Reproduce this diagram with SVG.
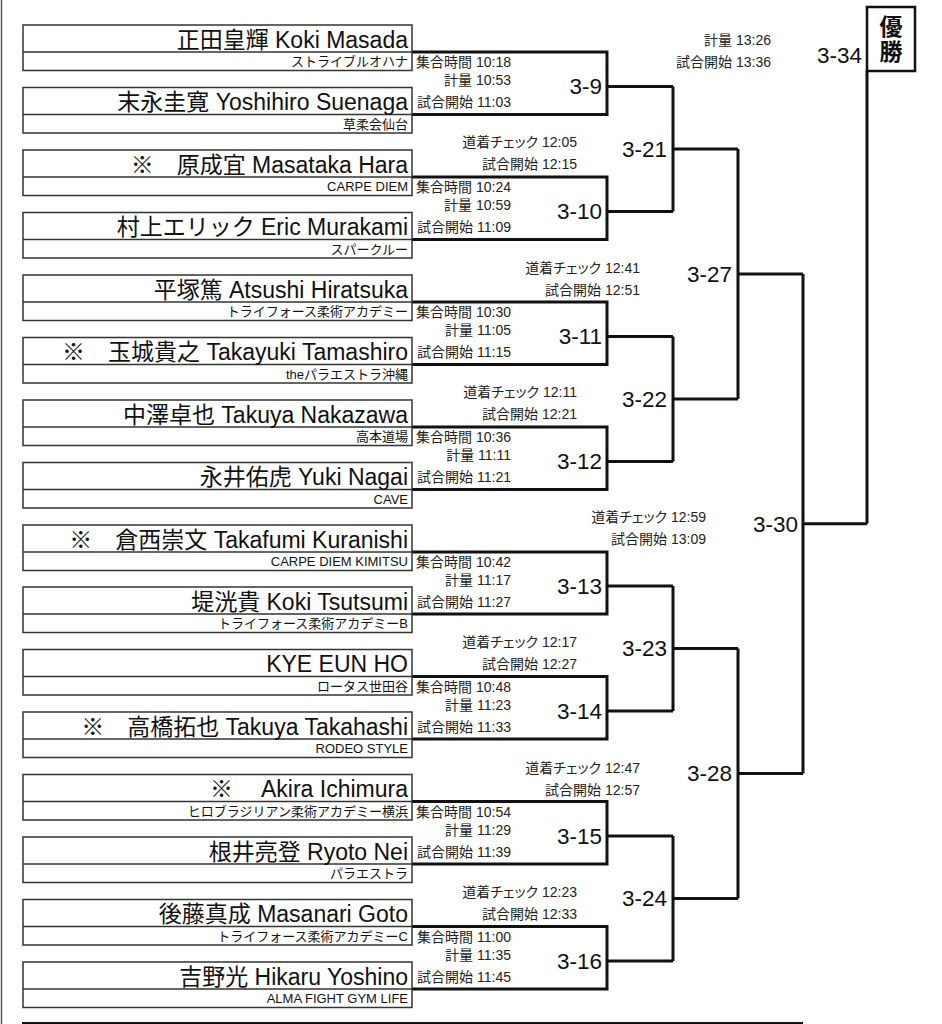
<svg xmlns="http://www.w3.org/2000/svg" width="942" height="1024" viewBox="0 0 942 1024">
<style>
.bg{fill:#ffffff}
.box{fill:#ffffff;stroke:#333333;stroke-width:1.5}
.div{stroke:#333333;stroke-width:1.5}
.nm{font-family:"Liberation Sans","Noto Sans CJK JP",sans-serif;font-size:23px;fill:#111111;text-anchor:end}
.cl{font-family:"Liberation Sans","Noto Sans CJK JP",sans-serif;font-size:13px;fill:#111111;text-anchor:end}
.tm{font-family:"Liberation Sans","Noto Sans CJK JP",sans-serif;font-size:14px;fill:#222222;text-anchor:end;font-feature-settings:"palt"}
.lb{font-family:"Liberation Sans","Noto Sans CJK JP",sans-serif;font-size:22.5px;fill:#111111;text-anchor:end}
.cn{fill:none;stroke:#111111;stroke-width:3;stroke-linejoin:miter}
.win{fill:#ffffff;stroke:#111111;stroke-width:2.5}
.wt{font-family:"Noto Sans CJK JP",sans-serif;font-size:23px;font-weight:bold;fill:#111111;text-anchor:middle;writing-mode:vertical-rl;letter-spacing:2px}
</style>
<rect class="bg" x="0" y="0" width="942" height="1024"/>
<line x1="1.5" y1="0" x2="1.5" y2="1024" stroke="#555555" stroke-width="1.5"/>
<line x1="22" y1="1023" x2="803" y2="1023" stroke="#111111" stroke-width="2"/>

<g id="connectors">
<path class="cn" d="M412,52 H607 V114.5 H412 M607,86.5 H673"/>
<path class="cn" d="M412,177 H607 V239.5 H412 M607,211.5 H673"/>
<path class="cn" d="M412,302 H607 V364.5 H412 M607,336.5 H673"/>
<path class="cn" d="M412,427 H607 V489.5 H412 M607,461.5 H673"/>
<path class="cn" d="M412,552 H607 V614 H412 M607,586 H673"/>
<path class="cn" d="M412,676.5 H607 V739 H412 M607,711 H673"/>
<path class="cn" d="M412,801.5 H607 V864 H412 M607,836 H673"/>
<path class="cn" d="M412,926.5 H607 V989 H412 M607,961 H673"/>
<path class="cn" d="M673,86.5 V211.5 M673,149 H738"/>
<path class="cn" d="M673,336.5 V461.5 M673,399 H738"/>
<path class="cn" d="M673,586 V711 M673,648.5 H738"/>
<path class="cn" d="M673,836 V961 M673,898.5 H738"/>
<path class="cn" d="M738,149 V399 M738,274 H803"/>
<path class="cn" d="M738,648.5 V898.5 M738,773.5 H803"/>
<path class="cn" d="M803,274 V773.5 M803,523.75 H867"/>
<path class="cn" d="M867,523.75 V71"/>
</g>

<g id="player-1"><rect class="box" x="23" y="25" width="389" height="45.5"/><line class="div" x1="23" y1="52" x2="412" y2="52"/><text class="nm" x="408" y="47.5">正田皇輝 Koki Masada</text><text class="cl" x="408" y="66">ストライブルオハナ</text></g>
<g id="player-2"><rect class="box" x="23" y="87.5" width="389" height="45.5"/><line class="div" x1="23" y1="114.5" x2="412" y2="114.5"/><text class="nm" x="408" y="110">末永圭寛 Yoshihiro Suenaga</text><text class="cl" x="408" y="128.5">草柔会仙台</text></g>
<g id="player-3"><rect class="box" x="23" y="150" width="389" height="45.5"/><line class="div" x1="23" y1="177" x2="412" y2="177"/><text class="nm" x="408" y="172.5">※　原成宜 Masataka Hara</text><text class="cl" x="408" y="191">CARPE DIEM</text></g>
<g id="player-4"><rect class="box" x="23" y="212.5" width="389" height="45.5"/><line class="div" x1="23" y1="239.5" x2="412" y2="239.5"/><text class="nm" x="408" y="235">村上エリック Eric Murakami</text><text class="cl" x="408" y="253.5">スパークルー</text></g>
<g id="player-5"><rect class="box" x="23" y="275" width="389" height="45.5"/><line class="div" x1="23" y1="302" x2="412" y2="302"/><text class="nm" x="408" y="297.5">平塚篤 Atsushi Hiratsuka</text><text class="cl" x="408" y="316">トライフォース柔術アカデミー</text></g>
<g id="player-6"><rect class="box" x="23" y="337.5" width="389" height="45.5"/><line class="div" x1="23" y1="364.5" x2="412" y2="364.5"/><text class="nm" x="408" y="360">※　玉城貴之 Takayuki Tamashiro</text><text class="cl" x="408" y="378.5">theパラエストラ沖縄</text></g>
<g id="player-7"><rect class="box" x="23" y="400" width="389" height="45.5"/><line class="div" x1="23" y1="427" x2="412" y2="427"/><text class="nm" x="408" y="422.5">中澤卓也 Takuya Nakazawa</text><text class="cl" x="408" y="441">高本道場</text></g>
<g id="player-8"><rect class="box" x="23" y="462.5" width="389" height="45.5"/><line class="div" x1="23" y1="489.5" x2="412" y2="489.5"/><text class="nm" x="408" y="485">永井佑虎 Yuki Nagai</text><text class="cl" x="408" y="503.5">CAVE</text></g>
<g id="player-9"><rect class="box" x="23" y="525" width="389" height="45.5"/><line class="div" x1="23" y1="552" x2="412" y2="552"/><text class="nm" x="408" y="547.5">※　倉西崇文 Takafumi Kuranishi</text><text class="cl" x="408" y="566">CARPE DIEM KIMITSU</text></g>
<g id="player-10"><rect class="box" x="23" y="587" width="389" height="45.5"/><line class="div" x1="23" y1="614" x2="412" y2="614"/><text class="nm" x="408" y="609.5">堤洸貴 Koki Tsutsumi</text><text class="cl" x="408" y="628">トライフォース柔術アカデミーB</text></g>
<g id="player-11"><rect class="box" x="23" y="649.5" width="389" height="45.5"/><line class="div" x1="23" y1="676.5" x2="412" y2="676.5"/><text class="nm" x="408" y="672">KYE EUN HO</text><text class="cl" x="408" y="690.5">ロータス世田谷</text></g>
<g id="player-12"><rect class="box" x="23" y="712" width="389" height="45.5"/><line class="div" x1="23" y1="739" x2="412" y2="739"/><text class="nm" x="408" y="734.5">※　高橋拓也 Takuya Takahashi</text><text class="cl" x="408" y="753">RODEO STYLE</text></g>
<g id="player-13"><rect class="box" x="23" y="774.5" width="389" height="45.5"/><line class="div" x1="23" y1="801.5" x2="412" y2="801.5"/><text class="nm" x="408" y="797">※　 Akira Ichimura</text><text class="cl" x="408" y="815.5">ヒロブラジリアン柔術アカデミー横浜</text></g>
<g id="player-14"><rect class="box" x="23" y="837" width="389" height="45.5"/><line class="div" x1="23" y1="864" x2="412" y2="864"/><text class="nm" x="408" y="859.5">根井亮登 Ryoto Nei</text><text class="cl" x="408" y="878">パラエストラ</text></g>
<g id="player-15"><rect class="box" x="23" y="899.5" width="389" height="45.5"/><line class="div" x1="23" y1="926.5" x2="412" y2="926.5"/><text class="nm" x="408" y="922">後藤真成 Masanari Goto</text><text class="cl" x="408" y="940.5">トライフォース柔術アカデミーC</text></g>
<g id="player-16"><rect class="box" x="23" y="962" width="389" height="45.5"/><line class="div" x1="23" y1="989" x2="412" y2="989"/><text class="nm" x="408" y="984.5">吉野光 Hikaru Yoshino</text><text class="cl" x="408" y="1003">ALMA FIGHT GYM LIFE</text></g>

<g id="match-3-9"><text class="tm" x="511" y="67">集合時間 10:18</text><text class="tm" x="511" y="85">計量 10:53</text><text class="tm" x="511" y="107">試合開始 11:03</text><text class="lb" x="602" y="94">3-9</text></g>
<g id="match-3-10"><text class="tm" x="511" y="192">集合時間 10:24</text><text class="tm" x="511" y="210">計量 10:59</text><text class="tm" x="511" y="232">試合開始 11:09</text><text class="lb" x="602" y="219">3-10</text></g>
<g id="match-3-11"><text class="tm" x="511" y="317">集合時間 10:30</text><text class="tm" x="511" y="335">計量 11:05</text><text class="tm" x="511" y="357">試合開始 11:15</text><text class="lb" x="602" y="344">3-11</text></g>
<g id="match-3-12"><text class="tm" x="511" y="442">集合時間 10:36</text><text class="tm" x="511" y="460">計量 11:11</text><text class="tm" x="511" y="482">試合開始 11:21</text><text class="lb" x="602" y="469">3-12</text></g>
<g id="match-3-13"><text class="tm" x="511" y="567">集合時間 10:42</text><text class="tm" x="511" y="585">計量 11:17</text><text class="tm" x="511" y="607">試合開始 11:27</text><text class="lb" x="602" y="593.5">3-13</text></g>
<g id="match-3-14"><text class="tm" x="511" y="691.5">集合時間 10:48</text><text class="tm" x="511" y="709.5">計量 11:23</text><text class="tm" x="511" y="731.5">試合開始 11:33</text><text class="lb" x="602" y="718.5">3-14</text></g>
<g id="match-3-15"><text class="tm" x="511" y="816.5">集合時間 10:54</text><text class="tm" x="511" y="834.5">計量 11:29</text><text class="tm" x="511" y="856.5">試合開始 11:39</text><text class="lb" x="602" y="843.5">3-15</text></g>
<g id="match-3-16"><text class="tm" x="511" y="941.5">集合時間 11:00</text><text class="tm" x="511" y="959.5">計量 11:35</text><text class="tm" x="511" y="981.5">試合開始 11:45</text><text class="lb" x="602" y="968.5">3-16</text></g>

<g id="match-3-21"><text class="tm" x="577" y="147">道着チェック 12:05</text><text class="tm" x="577" y="169">試合開始 12:15</text><text class="lb" x="667" y="156.5">3-21</text></g>
<g id="match-3-22"><text class="tm" x="577" y="397">道着チェック 12:11</text><text class="tm" x="577" y="419">試合開始 12:21</text><text class="lb" x="667" y="406.5">3-22</text></g>
<g id="match-3-23"><text class="tm" x="577" y="646.5">道着チェック 12:17</text><text class="tm" x="577" y="668.5">試合開始 12:27</text><text class="lb" x="667" y="656">3-23</text></g>
<g id="match-3-24"><text class="tm" x="577" y="896.5">道着チェック 12:23</text><text class="tm" x="577" y="918.5">試合開始 12:33</text><text class="lb" x="667" y="906">3-24</text></g>

<g id="match-3-27"><text class="tm" x="640" y="273">道着チェック 12:41</text><text class="tm" x="640" y="295">試合開始 12:51</text><text class="lb" x="732" y="281.5">3-27</text></g>
<g id="match-3-28"><text class="tm" x="640" y="772.5">道着チェック 12:47</text><text class="tm" x="640" y="794.5">試合開始 12:57</text><text class="lb" x="732" y="781">3-28</text></g>

<g id="match-3-30"><text class="tm" x="706" y="521.5">道着チェック 12:59</text><text class="tm" x="706" y="544">試合開始 13:09</text><text class="lb" x="798" y="531.5">3-30</text></g>

<g id="match-3-34"><text class="tm" x="771" y="45">計量 13:26</text><text class="tm" x="771" y="67">試合開始 13:36</text><text class="lb" x="862" y="63">3-34</text></g>

<g id="winner"><rect class="win" x="867" y="7" width="48" height="64"/><text class="wt" x="891" y="40">優勝</text></g>
</svg>
